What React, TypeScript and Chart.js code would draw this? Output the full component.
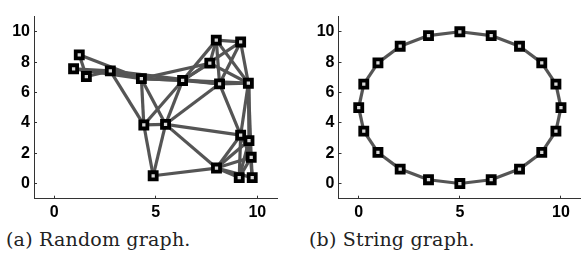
import React, { useEffect, useRef } from "react";
import { Chart, registerables } from "chart.js";

Chart.register(...registerables);

// ---- data ----
const randX = [0.95, 1.23, 1.58, 2.76, 4.29, 6.32, 7.66, 7.98, 9.18, 8.14, 9.56, 4.41, 5.48, 4.87, 7.99, 9.18, 9.59, 9.7, 9.11, 9.75];
const randY = [7.56, 8.48, 7.05, 7.42, 6.91, 6.79, 7.93, 9.45, 9.33, 6.57, 6.61, 3.86, 3.9, 0.51, 1.02, 3.19, 2.83, 1.73, 0.39, 0.39];
const randEdgeFrom = [1, 1, 0, 2, 0, 3, 3, 4, 4, 5, 9, 4, 5, 5, 5, 6, 7, 7, 7, 8, 8, 6, 3, 4, 4, 5, 5, 9, 11, 11, 12, 13, 12, 12, 9, 10, 10, 10, 14, 14, 14, 14, 14, 15, 16, 16, 17, 17, 15];
const randEdgeTo = [2, 4, 3, 3, 4, 4, 9, 10, 5, 9, 10, 6, 6, 7, 8, 7, 8, 9, 10, 9, 10, 10, 11, 11, 12, 11, 12, 12, 12, 13, 13, 14, 14, 15, 15, 15, 16, 17, 15, 16, 17, 18, 19, 18, 18, 19, 18, 19, 17];

const stringX = [5, 6.55, 7.95, 9.05, 9.75, 10, 9.75, 9.05, 7.95, 6.55, 5, 3.45, 2.05, 0.95, 0.25, 0, 0.25, 0.95, 2.05, 3.45];
const stringY = [10, 9.75, 9.05, 7.95, 6.55, 5, 3.45, 2.05, 0.95, 0.25, 0, 0.25, 0.95, 2.05, 3.45, 5, 6.55, 7.95, 9.05, 9.75];
// string graph: each node linked to the next, closing the loop
const stringEdgeFrom = stringX.map((_, i) => i);
const stringEdgeTo = stringX.map((_, i) => (i + 1) % stringX.length);

const xTickValues = [0, 5, 10];
const yTickValues = [0, 2, 4, 6, 8, 10];
const axisMin = -1;
const axisMax = 11;

const captions = ["(a) Random graph.", "(b) String graph."];

const EDGE_COLOR = "#555555";
const AXIS_COLOR = "#333";
const TICK_FONT = { family: "Liberation Sans", size: 16, weight: "bold" as const };

type GraphProps = {
  xs: number[];
  ys: number[];
  from: number[];
  to: number[];
  width: number;
  height: number;
  yAxisWidth: number;
  padRight: number;
};

function GraphChart({ xs, ys, from, to, width, height, yAxisWidth, padRight }: GraphProps) {
  const ref = useRef<HTMLCanvasElement | null>(null);
  useEffect(() => {
    if (!ref.current) return;
    const edgeSets: any[] = from.map((a, k) => ({
      type: "line",
      data: [
        { x: xs[a], y: ys[a] },
        { x: xs[to[k]], y: ys[to[k]] },
      ],
      borderColor: EDGE_COLOR,
      borderWidth: 3.2,
      pointRadius: 0,
      fill: false,
      order: 2,
    }));
    const nodeSet: any = {
      type: "scatter",
      data: xs.map((x, i) => ({ x, y: ys[i] })),
      pointStyle: "rect",
      pointRadius: 5,
      backgroundColor: "#d8d8d8",
      borderColor: "#000",
      borderWidth: 3.8,
      order: 0,
    };
    const chart = new Chart(ref.current, {
      type: "scatter",
      data: { datasets: [nodeSet, ...edgeSets] },
      options: {
        animation: false,
        responsive: false,
        devicePixelRatio: 1,
        layout: { padding: { top: 2, right: padRight, left: 0, bottom: 0 } },
        plugins: { legend: { display: false }, tooltip: { enabled: false } },
        events: [],
        scales: {
          x: {
            type: "linear",
            min: axisMin,
            max: axisMax,
            afterBuildTicks: (axis: any) => {
              axis.ticks = xTickValues.map((v) => ({ value: v }));
            },
            afterFit: (axis: any) => {
              axis.height = 25.3;
            },
            border: { display: true, color: AXIS_COLOR, width: 1 },
            grid: { drawOnChartArea: false, drawTicks: true, tickLength: -3, color: AXIS_COLOR },
            ticks: { color: "#000", font: TICK_FONT, padding: 7.4, maxRotation: 0, autoSkip: false },
          },
          y: {
            type: "linear",
            min: axisMin,
            max: axisMax,
            afterBuildTicks: (axis: any) => {
              axis.ticks = yTickValues.map((v) => ({ value: v }));
            },
            afterFit: (axis: any) => {
              axis.width = yAxisWidth;
            },
            border: { display: true, color: AXIS_COLOR, width: 1 },
            grid: { drawOnChartArea: false, drawTicks: true, tickLength: -3, color: AXIS_COLOR },
            ticks: { color: "#000", font: TICK_FONT, padding: 7, autoSkip: false },
          },
        },
      } as any,
    });
    return () => chart.destroy();
  }, []);
  return <canvas ref={ref} width={width} height={height} style={{ width, height, display: "block" }} />;
}

export default function App() {
  const captionStyle: React.CSSProperties = {
    position: "absolute",
    top: 228,
    fontFamily: "'DejaVu Serif', serif",
    fontSize: 19,
    lineHeight: "22px",
    color: "#222",
    whiteSpace: "nowrap",
    letterSpacing: "0.2px",
  };
  return (
    <div
      style={{
        position: "absolute",
        left: 0,
        top: 0,
        width: 581,
        height: 254,
        overflow: "hidden",
        background: "#fff",
      }}
    >
      <div style={{ position: "absolute", left: 0, top: 0 }}>
        <GraphChart xs={randX} ys={randY} from={randEdgeFrom} to={randEdgeTo} width={290} height={224} yAxisWidth={34} padRight={12.4} />
      </div>
      <div style={{ position: "absolute", left: 290, top: 0 }}>
        <GraphChart xs={stringX} ys={stringY} from={stringEdgeFrom} to={stringEdgeTo} width={300} height={224} yAxisWidth={48.5} padRight={6.7} />
      </div>
      <div style={{ ...captionStyle, left: 6 }}>{captions[0]}</div>
      <div style={{ ...captionStyle, left: 309 }}>{captions[1]}</div>
    </div>
  );
}
